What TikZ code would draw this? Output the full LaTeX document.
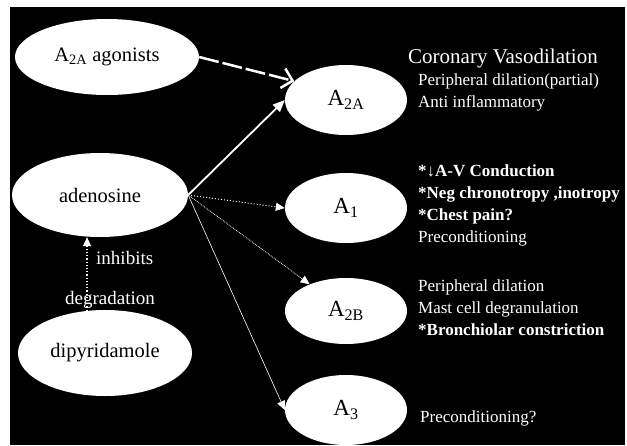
\documentclass[tikz,border=0pt]{standalone}
\usepackage{fontspec}
\setmainfont{Liberation Serif}
\usepackage{amsmath}
\usetikzlibrary{shapes.geometric,arrows.meta,positioning}

\newcommand{\rsub}[1]{$_{\text{#1}}$}

\begin{document}
\begin{tikzpicture}[x=1pt,y=-1pt,
    blob/.style={ellipse, fill=white, inner sep=0pt},
    lig/.style={blob, minimum width=176pt, minimum height=84pt, font=\fontsize{20.5}{24}\selectfont},
    rec/.style={blob, minimum width=122pt, minimum height=70pt, font=\fontsize{23}{26}\selectfont},
    effect/.style={text=white, anchor=west, align=left, inner sep=0pt, font=\fontsize{17}{22}\selectfont},
    note/.style={text=white, inner sep=0pt, font=\fontsize{19}{21}\selectfont},
    tip/.style={-{Triangle[length=9pt,width=8pt]}}]
    \useasboundingbox (0,0) rectangle (627,445);
    % Background
    \fill[black] (10,7) rectangle (625,445);

    % Ligands
    \node[lig, minimum width=184pt, minimum height=76pt] (ag) at (107,57) {A\rsub{2A} agonists};
    \node[lig] (ad) at (100,195) {adenosine};
    \node[lig, minimum width=174pt, minimum height=86pt] (dip) at (105,353) {dipyridamole};

    % Receptors
    \node[rec] (a2a) at (346,100) {A\rsub{2A}};
    \node[rec] (a1) at (346,208) {A\rsub{1}};
    \node[rec, minimum height=66pt] (a2b) at (346,311) {A\rsub{2B}};
    \node[rec] (a3) at (346,410) {A\rsub{3}};

    % Effects
    \node[effect, font=\fontsize{21}{24}\selectfont] (vaso) at (408,58) {Coronary Vasodilation};
    \node[effect] (fx2a) at (418,92) {Peripheral dilation(partial)\\Anti inflammatory};
    \node[effect] (fx1) at (418,205) {\textbf{*↓A-V Conduction}\\\textbf{*Neg chronotropy ,inotropy}\\\textbf{*Chest pain?}\\Preconditioning};
    \node[effect] (fx2b) at (418,308) {Peripheral dilation\\Mast cell degranulation\\\textbf{*Bronchiolar constriction}};
    \node[effect] (fx3) at (420,418) {Preconditioning?};

    % Connections
    \draw[white, line width=2.5pt, dash pattern=on 20pt off 4pt, -{Straight Barb[length=10pt,width=20pt]}] (ag.east) -- (a2a.160);
    \draw[white, line width=1.8pt, -{Triangle[length=12pt,width=10pt]}] (ad.east) -- (a2a.west);
    \draw[white, dotted, line width=1pt, tip] (ad.east) -- (a1.west);
    \draw[white, densely dotted, line width=0.8pt, tip] (ad.east) -- (a2b);
    \draw[white, line width=0.6pt, tip] (ad.east) -- (a3.west);

    % Inhibition of degradation
    \draw[white, dotted, line width=1.2pt, tip] (dip.113) -- (dip.113 |- ad.south);
    \node[note, anchor=west] (inh) at (96,258) {inhibits};
    \node[note] (deg) at (110,300) {degradation};
\end{tikzpicture}
\end{document}
